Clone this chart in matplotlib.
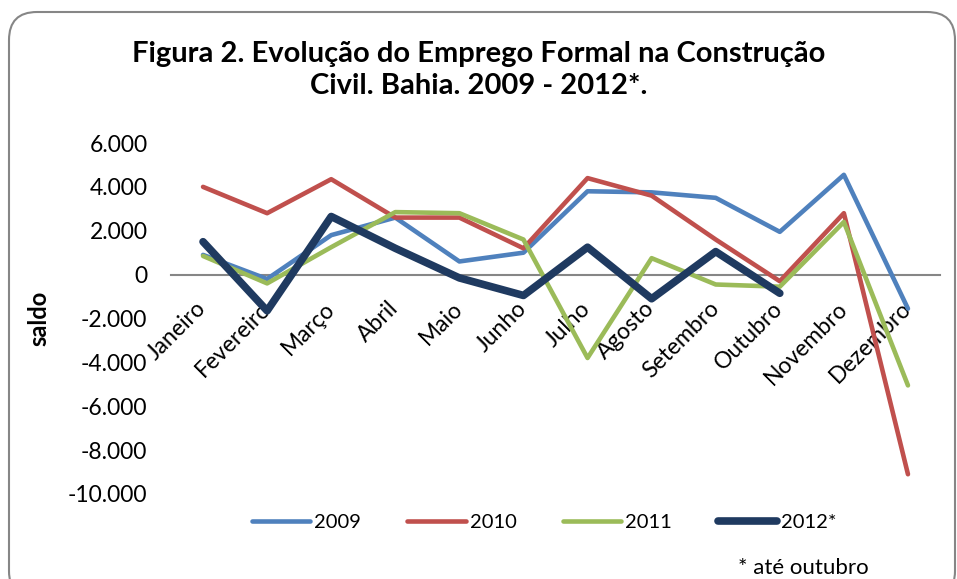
import matplotlib
matplotlib.use("Agg")
import matplotlib.pyplot as plt
from matplotlib.patches import FancyBboxPatch
from matplotlib.ticker import FuncFormatter

plt.rcParams['font.family'] = ['Lato', 'DejaVu Sans']

meses = ['Janeiro', 'Fevereiro', 'Março', 'Abril', 'Maio', 'Junho',
         'Julho', 'Agosto', 'Setembro', 'Outubro', 'Novembro', 'Dezembro']

saldo_2009 = [900, -200, 1800, 2600, 600, 1000, 3800, 3750, 3500, 1950, 4550, -1550]
saldo_2010 = [4000, 2800, 4350, 2600, 2600, 1200, 4400, 3600, 1600, -300, 2800, -9100]
saldo_2011 = [850, -400, 1250, 2850, 2800, 1600, -3800, 750, -450, -550, 2400, -5050]
saldo_2012 = [1500, -1650, 2650, 1200, -150, -950, 1250, -1100, 1050, -850]

cores = {'2009': '#4F81BD', '2010': '#C0504D', '2011': '#9BBB59', '2012*': '#1F3A60'}

fig = plt.figure(figsize=(9.57, 5.79), dpi=100)
ax = fig.add_axes([171/957, 1 - 494/579, 769/957, 351/579])

x = list(range(len(meses)))
ax.plot(x, saldo_2009, color=cores['2009'], lw=3.3, solid_capstyle='round', label='2009')
ax.plot(x, saldo_2010, color=cores['2010'], lw=3.3, solid_capstyle='round', label='2010')
ax.plot(x, saldo_2011, color=cores['2011'], lw=3.3, solid_capstyle='round', label='2011')
ax.plot(x[:len(saldo_2012)], saldo_2012, color=cores['2012*'], lw=5.5,
        solid_capstyle='round', label='2012*')

ax.set_xlim(-0.5, len(meses) - 0.5)
ax.set_ylim(-10000, 6000)
ax.set_yticks(range(-10000, 6001, 2000))
ax.yaxis.set_major_formatter(FuncFormatter(lambda v, p: f'{int(v):,}'.replace(',', '.')))

for s in ['top', 'right', 'left']:
    ax.spines[s].set_visible(False)
ax.spines['bottom'].set_position(('data', 0))
ax.spines['bottom'].set_color('#868686')
ax.spines['bottom'].set_linewidth(1.5)
ax.spines['bottom'].set_zorder(0)

ax.set_xticks(x)
ax.set_xticklabels(meses, rotation=45, ha='right', va='center',
                   rotation_mode='anchor', fontsize=16.5)
ax.tick_params(axis='x', length=0, pad=22)
ax.tick_params(axis='y', length=0, pad=17, labelsize=16.5)

ax.set_ylabel('saldo', fontsize=17, fontweight='bold')
ax.yaxis.set_label_coords(-0.157, 0.5)

fig.text(0.5, 0.879, 'Figura 2. Evolução do Emprego Formal na Construção\nCivil. Bahia. 2009 - 2012*.',
         ha='center', va='center', fontsize=21, fontweight='bold', linespacing=1.3)

fig.legend(loc='center', bbox_to_anchor=(544/957, 1 - 522/579), ncol=4, frameon=False,
           fontsize=14.5, handlelength=2.9, columnspacing=2.3, handletextpad=0.2)

fig.text(738/957, 1 - 568/579, '* até outubro', ha='left', va='center', fontsize=16)

borda = FancyBboxPatch((9, -20), 946, 587, boxstyle='round,pad=0,rounding_size=28',
                       transform=None, fill=False, edgecolor='#868686', lw=1.5)
fig.add_artist(borda)

fig.savefig('out.png', dpi=100)
